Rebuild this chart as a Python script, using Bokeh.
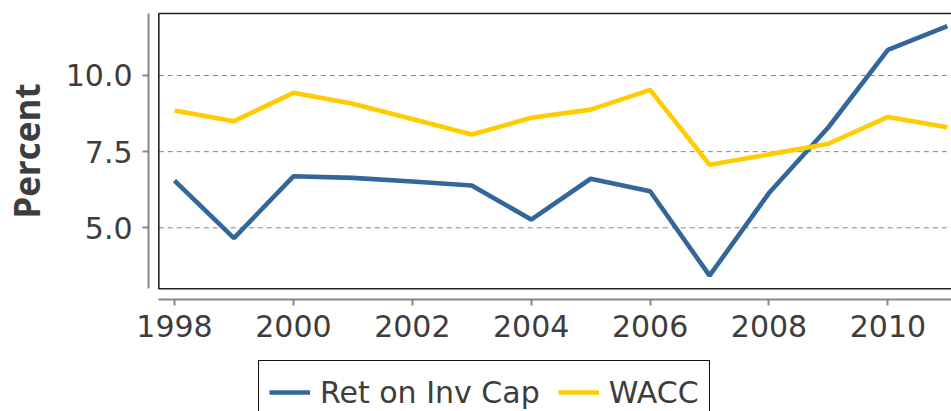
import math
from bokeh.plotting import figure
from bokeh.models import (Range1d, FixedTicker, PrintfTickFormatter, BoxAnnotation,
                          Legend, LegendItem, Label)
from bokeh.embed import file_html
from bokeh.resources import INLINE

years = [1998, 1999, 2000, 2001, 2002, 2003, 2004, 2005, 2006, 2007, 2008, 2009, 2010, 2011]
ret_on_inv_cap = [6.55, 4.66, 6.69, 6.64, 6.52, 6.39, 5.27, 6.61, 6.20, 3.43, 6.14, 8.30, 10.84, 11.62]
wacc = [8.85, 8.50, 9.43, 9.07, 8.57, 8.06, 8.61, 8.88, 9.53, 7.07, 7.41, 7.76, 8.64, 8.30]
x_ticks = [1998, 2000, 2002, 2004, 2006, 2008, 2010]
y_ticks = [5.0, 7.5, 10.0]
series_names = ["Ret on Inv Cap", "WACC"]
y_label = "Percent"

BLUE = "#336699"
YELLOW = "#FFCC00"
TEXT = "#3d3d3d"
AXIS = "#888888"

# view ranges (the frame covers the whole canvas)
x_start, x_end = 1995.073, 2011.070
y_start, y_end = -1.031, 12.462
# inner box and offset axes
inner_left, inner_right = 1997.736, 2011.2
inner_bottom, inner_top = 3.0, 12.035
y_axis_at = 1997.563
x_axis_at = 2.646

p = figure(width=951, height=411, output_backend="svg", toolbar_location=None,
           x_range=Range1d(x_start, x_end), y_range=Range1d(y_start, y_end),
           min_border_left=0, min_border_right=0, min_border_top=0, min_border_bottom=0)
p.outline_line_color = None
p.background_fill_color = "white"
p.border_fill_color = "white"
p.grid.visible = False

# dashed horizontal grid lines inside the inner box
n = len(y_ticks)
p.segment(x0=[inner_left] * n, x1=[x_end] * n, y0=y_ticks, y1=y_ticks,
          line_color="#888888", line_width=1, line_dash="5 4")

r1 = p.line(years, ret_on_inv_cap, line_color=BLUE, line_width=4.6)
r2 = p.line(years, wacc, line_color=YELLOW, line_width=4.6)

# inner frame box
p.add_layout(BoxAnnotation(left=inner_left, right=inner_right, bottom=inner_bottom, top=inner_top,
                           fill_color=None, fill_alpha=0, line_color="#222222", line_alpha=1,
                           line_width=1.6))

# axes, offset from the inner box
xa = p.xaxis[0]
xa.ticker = FixedTicker(ticks=x_ticks)
xa.bounds = (inner_left, x_end)
xa.fixed_location = x_axis_at
ya = p.yaxis[0]
ya.ticker = FixedTicker(ticks=y_ticks)
ya.formatter = PrintfTickFormatter(format="%.1f")
ya.bounds = (inner_bottom, inner_top)
ya.fixed_location = y_axis_at
for ax in (xa, ya):
    ax.axis_line_color = AXIS
    ax.axis_line_width = 2
    ax.major_tick_line_color = AXIS
    ax.major_tick_line_width = 2
    ax.major_tick_out = 6
    ax.major_tick_in = 0
    ax.minor_tick_line_color = None
    ax.major_label_text_font = "DejaVu Sans"
    ax.major_label_text_font_size = "30px"
    ax.major_label_text_color = TEXT
xa.major_label_standoff = 10
ya.major_label_standoff = 10

p.add_layout(Label(x=26, y=(inner_bottom + inner_top) / 2, x_units="screen", y_units="data",
                   text=y_label, angle=math.pi / 2, text_align="center",
                   text_baseline="alphabetic", text_font="Open Sans", text_font_style="bold",
                   text_font_size="35px", text_color=TEXT))

legend = Legend(items=[LegendItem(label=series_names[0], renderers=[r1]),
                       LegendItem(label=series_names[1], renderers=[r2])],
                orientation="horizontal", location=(258, -13))
legend.border_line_color = "#111111"
legend.border_line_alpha = 1
legend.border_line_width = 1.6
legend.background_fill_color = "white"
legend.background_fill_alpha = 1
legend.label_text_font = "DejaVu Sans"
legend.label_text_font_size = "30px"
legend.label_text_color = TEXT
legend.glyph_width = 41
legend.label_standoff = 10
legend.spacing = 18
legend.padding = 10
legend.margin = 0
legend.label_height = 42
p.add_layout(legend, "center")

open("out.html", "w").write(file_html(p, INLINE))
